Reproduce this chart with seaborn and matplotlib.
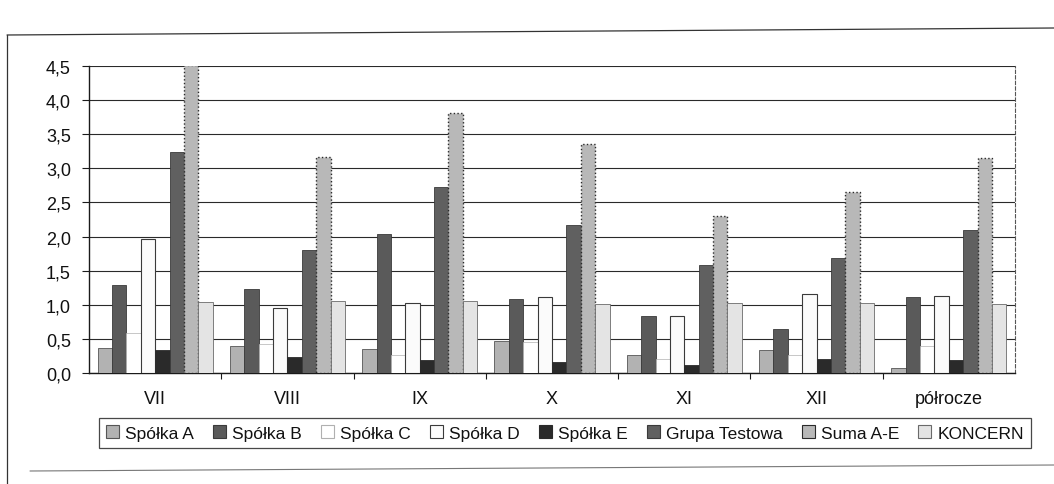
import pandas as pd
import matplotlib
matplotlib.use("Agg")
import matplotlib.pyplot as plt
from matplotlib.patches import Patch
from matplotlib.lines import Line2D
from matplotlib.ticker import FuncFormatter, MultipleLocator, FixedLocator
import seaborn as sns

# --- data -------------------------------------------------------------
months = ["VII", "VIII", "IX", "X", "XI", "XII", "półrocze"]
series = ["Spółka A", "Spółka B", "Spółka C", "Spółka D", "Spółka E",
          "Grupa Testowa", "Suma A-E", "KONCERN"]

spolka_a = [0.37, 0.40, 0.35, 0.47, 0.27, 0.34, 0.07]
spolka_b = [1.29, 1.23, 2.04, 1.09, 0.83, 0.65, 1.11]
spolka_c = [0.58, 0.42, 0.27, 0.45, 0.20, 0.27, 0.40]
spolka_d = [1.97, 0.95, 1.03, 1.12, 0.83, 1.16, 1.13]
spolka_e = [0.33, 0.24, 0.19, 0.16, 0.12, 0.21, 0.19]
grupa_testowa = [3.24, 1.81, 2.72, 2.17, 1.59, 1.68, 2.09]
suma_a_e = [4.52, 3.17, 3.81, 3.35, 2.30, 2.65, 3.15]
koncern = [1.04, 1.05, 1.05, 1.01, 1.03, 1.02, 1.01]

values = [spolka_a, spolka_b, spolka_c, spolka_d, spolka_e,
          grupa_testowa, suma_a_e, koncern]

df = pd.DataFrame(
    [(m, s, v[i]) for s, v in zip(series, values) for i, m in enumerate(months)],
    columns=["miesiac", "seria", "wartosc"],
)

# --- styling ----------------------------------------------------------
colors = ["#b2b2b2", "#5a5a5a", "#ffffff", "#fbfbfb", "#2a2a2a",
          "#606060", "#b8b8b8", "#e4e4e4"]
edges = ["#555555", "#3a3a3a", "#b0b0b0", "#3a3a3a", "#2a2a2a",
         "#3a3a3a", "#2a2a2a", "#6a6a6a"]
edge_styles = ["-", "-", "-", "-", "-", "-", ":", "-"]
edge_widths = [0.6, 0.6, 0.5, 0.8, 0.6, 0.6, 1.0, 0.6]
text_color = "#111111"

sns.set_theme(style="white")
plt.rcParams["font.family"] = ["Liberation Sans", "DejaVu Sans"]

W, H = 1054, 485
fig = plt.figure(figsize=(W / 100, H / 100), dpi=100)
fig.patch.set_facecolor("white")

left, right, top, bottom = 89, 1015, 67, 374
ax = fig.add_axes([left / W, 1 - bottom / H, (right - left) / W, (bottom - top) / H])

sns.barplot(data=df, x="miesiac", y="wartosc", hue="seria", order=months,
            hue_order=series, palette=colors, width=0.87, saturation=1,
            legend=False, ax=ax, zorder=3)

for cont, ec, ls, lw in zip(ax.containers, edges, edge_styles, edge_widths):
    for bar in cont:
        bar.set_edgecolor(ec)
        bar.set_linestyle(ls)
        bar.set_linewidth(lw)

ax.set_ylim(0, 4.5)
ax.set_xlim(-0.5, len(months) - 0.5)
ax.yaxis.set_major_locator(MultipleLocator(0.5))
ax.yaxis.set_major_formatter(FuncFormatter(lambda v, _: f"{v:.1f}".replace(".", ",")))
ax.grid(axis="y", color="#2a2a2a", linewidth=0.8, zorder=0)
ax.set_axisbelow(True)
ax.set_xlabel("")
ax.set_ylabel("")

for side in ["left", "bottom"]:
    ax.spines[side].set_visible(True)
    ax.spines[side].set_color("#1a1a1a")
    ax.spines[side].set_linewidth(1.0)
ax.spines["top"].set_visible(False)
ax.spines["right"].set_visible(True)
ax.spines["right"].set_color("#555555")
ax.spines["right"].set_linestyle((0, (3, 2)))
ax.spines["right"].set_linewidth(0.8)

ax.tick_params(axis="y", which="major", direction="out", length=5, width=0.8,
               color="#1a1a1a", pad=8, labelsize=13, labelcolor=text_color, left=True)
ax.tick_params(axis="x", which="major", length=0, pad=12, labelsize=13,
               labelcolor=text_color)
ax.xaxis.set_minor_locator(FixedLocator([i + 0.5 for i in range(len(months) - 1)]))
ax.tick_params(axis="x", which="minor", direction="out", length=4, width=0.8,
               color="#1a1a1a", bottom=True)

# --- legend -----------------------------------------------------------
handles = [Patch(facecolor=c, edgecolor=e, linewidth=0.8)
           for c, e in zip(colors, edges)]
leg = fig.legend(handles, series, loc="center", ncol=len(series),
                 bbox_to_anchor=(565 / W, 1 - 434 / H), frameon=True,
                 fancybox=False, edgecolor="#1a1a1a", fontsize=12.5,
                 handlelength=0.75, handleheight=0.75, handletextpad=0.35,
                 columnspacing=1.1, borderpad=0.4, borderaxespad=0)
leg.get_frame().set_linewidth(0.9)
for t in leg.get_texts():
    t.set_color(text_color)

# --- outer chart frame ------------------------------------------------
frame_kw = dict(color="#333333", linewidth=0.9, transform=fig.transFigure)
fig.add_artist(Line2D([7 / W, 1.0], [1 - 36 / H, 1 - 29 / H], **frame_kw))
fig.add_artist(Line2D([7 / W, 7 / W], [1 - 36 / H, 0.0], **frame_kw))
fig.add_artist(Line2D([30 / W, 1.0], [1 - 472 / H, 1 - 466 / H],
                      color="#777777", linewidth=0.8, transform=fig.transFigure))

fig.savefig("out.png", dpi=100, facecolor="white")
